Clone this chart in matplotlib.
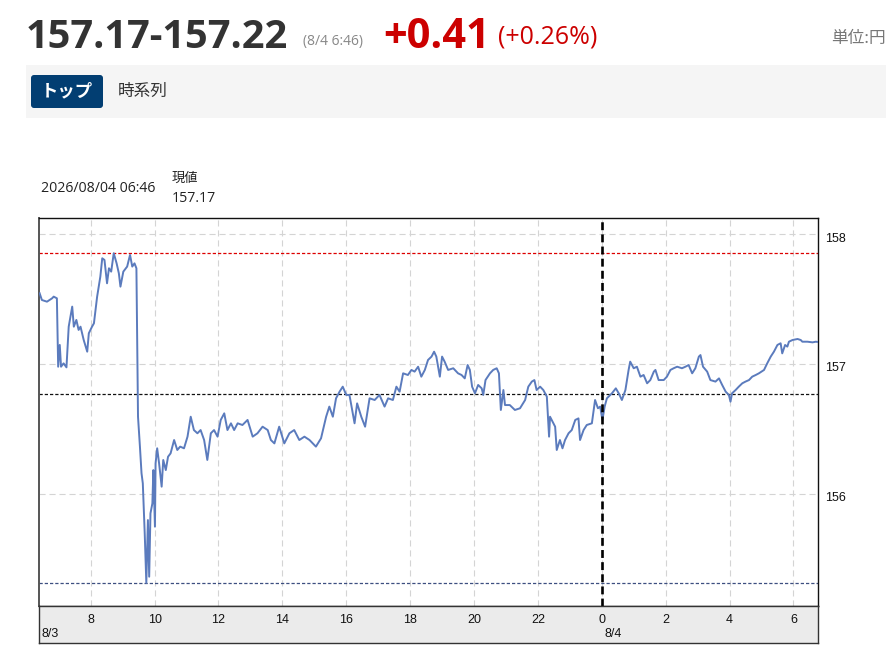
import matplotlib
matplotlib.use('Agg')
import matplotlib.pyplot as plt
from matplotlib.patches import Rectangle, FancyBboxPatch
from matplotlib import transforms

# ---------------- data ----------------
# hours since 8/3 00:00 (24 = 8/4 00:00)
hours = [6.40, 6.47, 6.63, 6.79, 6.84, 6.94, 6.98, 7.03, 7.07, 7.15, 7.24, 7.31, 7.42, 7.47, 7.55,
         7.62, 7.68, 7.78, 7.89, 7.94, 8.04, 8.10, 8.20, 8.30, 8.36, 8.43, 8.51, 8.57, 8.64, 8.72,
         8.81, 8.88, 8.93, 9.02, 9.14, 9.23, 9.30, 9.37, 9.43, 9.48, 9.54, 9.59, 9.63, 9.69, 9.74,
         9.79, 9.83, 9.87, 9.93, 9.96, 10.01, 10.03, 10.08, 10.14, 10.22, 10.27, 10.35, 10.42, 10.50,
         10.61, 10.71, 10.80, 10.92, 11.03, 11.13, 11.23, 11.34, 11.44, 11.55, 11.65, 11.76, 11.86,
         11.97, 12.07, 12.18, 12.28, 12.39, 12.49, 12.60, 12.75, 12.91, 13.07, 13.22, 13.38, 13.54,
         13.64, 13.75, 13.90, 14.06, 14.22, 14.37, 14.53, 14.69, 14.85, 15.05, 15.21,
         15.37, 15.47, 15.58, 15.68, 15.79, 15.89, 16.00, 16.10, 16.26, 16.34, 16.47, 16.59, 16.73,
         16.89, 17.04, 17.20, 17.31, 17.46, 17.57, 17.67, 17.78, 17.93, 18.04, 18.14, 18.25, 18.35,
         18.46, 18.56, 18.67, 18.75, 18.82, 18.93, 19.00, 19.08, 19.19, 19.35, 19.50, 19.61, 19.71,
         19.80, 19.87, 19.94, 20.03, 20.13, 20.24, 20.29, 20.36, 20.50, 20.60, 20.71, 20.78, 20.84,
         20.92, 20.97, 21.12, 21.28, 21.44, 21.60, 21.70, 21.81, 21.89, 21.96, 22.07, 22.17, 22.28,
         22.35, 22.38, 22.54, 22.59, 22.69, 22.77, 22.85, 22.96, 23.06, 23.17, 23.27, 23.32, 23.43,
         23.53, 23.69, 23.79, 23.88, 23.95, 24.02, 24.09, 24.16, 24.32, 24.44, 24.53, 24.63,
         24.74, 24.84, 24.89, 25.00, 25.10, 25.21, 25.31, 25.42, 25.52, 25.63, 25.68, 25.78, 25.94,
         26.04, 26.15, 26.25, 26.36, 26.51, 26.62, 26.72, 26.83, 26.93, 27.04, 27.09, 27.17, 27.30,
         27.40, 27.56, 27.67, 27.77, 27.88, 27.98, 28.03, 28.08, 28.19, 28.29, 28.40, 28.50, 28.61,
         28.71, 28.82, 28.92, 29.08, 29.18, 29.29, 29.39, 29.50, 29.60, 29.65, 29.74, 29.81, 29.86,
         29.97, 30.13, 30.23, 30.28, 30.44, 30.60, 30.70, 30.77]

prices = [157.546, 157.494, 157.481, 157.507, 157.520, 157.507, 156.979, 157.147, 156.979, 157.005,
          156.974, 157.288, 157.443, 157.288, 157.340, 157.263, 157.288, 157.185, 157.095, 157.237,
          157.288, 157.314, 157.520, 157.674, 157.816, 157.803, 157.623, 157.739, 157.713, 157.855,
          157.777, 157.700, 157.597, 157.713, 157.752, 157.842, 157.752, 157.777, 157.739, 156.593,
          156.362, 156.156, 156.079, 155.692, 155.311, 155.795, 155.358, 155.847, 155.924, 156.181,
          155.744, 156.233, 156.349, 156.233, 156.053, 156.259, 156.181, 156.284, 156.310, 156.413,
          156.336, 156.362, 156.349, 156.439, 156.593, 156.490, 156.465, 156.490, 156.413, 156.259,
          156.465, 156.490, 156.439, 156.568, 156.619, 156.490, 156.542, 156.490, 156.542, 156.529,
          156.568, 156.439, 156.465, 156.516, 156.490, 156.413, 156.387, 156.516, 156.387, 156.465,
          156.490, 156.413, 156.439, 156.413, 156.362, 156.426,
          156.593, 156.671, 156.593, 156.735, 156.786, 156.825, 156.761, 156.761, 156.542, 156.696,
          156.593, 156.516, 156.735, 156.722, 156.761, 156.671, 156.735, 156.722, 156.825, 156.786,
          156.928, 156.915, 156.954, 156.941, 156.979, 156.902, 156.954, 157.031, 157.057, 157.095,
          157.057, 156.902, 157.057, 157.018, 156.954, 156.967, 156.928, 156.915, 156.889, 156.992,
          156.954, 156.825, 156.774, 156.838, 156.812, 156.761, 156.876, 156.928, 156.954, 156.967,
          156.928, 156.645, 156.799, 156.683, 156.683, 156.645, 156.658, 156.722, 156.825, 156.864,
          156.876, 156.799, 156.825, 156.799, 156.748, 156.439, 156.593, 156.516, 156.336, 156.413,
          156.349, 156.413, 156.465, 156.490, 156.568, 156.580, 156.413, 156.490, 156.529, 156.542,
          156.722, 156.658, 156.671, 156.568, 156.671, 156.735, 156.774, 156.812, 156.774, 156.722,
          156.799, 156.954, 157.018, 156.967, 156.979, 156.902, 156.915, 156.851, 156.876, 156.941,
          156.954, 156.876, 156.876, 156.902, 156.954, 156.967, 156.979, 156.967, 156.979, 156.992,
          156.928, 156.967, 157.057, 157.069, 156.979, 156.941, 156.876, 156.864, 156.889, 156.838,
          156.786, 156.761, 156.709, 156.774, 156.799, 156.825, 156.851, 156.864, 156.876, 156.902,
          156.915, 156.928, 156.954, 157.005, 157.057, 157.095, 157.147, 157.160, 157.082, 157.147,
          157.134, 157.172, 157.185, 157.193, 157.185, 157.172, 157.172, 157.167, 157.172, 157.170]

high_price = 157.857
low_price = 155.311
prev_close = 156.768
now_hour = 24.0

x_ticks = [8, 10, 12, 14, 16, 18, 20, 22, 24, 26, 28, 30]
x_tick_labels = ['8', '10', '12', '14', '16', '18', '20', '22', '0', '2', '4', '6']
y_ticks = [156, 157, 158]
y_tick_labels = ['156', '157', '158']
date_labels = ['8/3', '8/4']
date_label_hours = [6.38, 24.0]

quote_text = '157.17-157.22'
quote_time = '(8/4 6:46)'
change_text = '+0.41'
change_pct = '(+0.26%)'
unit_text = '単位:円'
tab_labels = ['トップ', '時系列']
info_time = '2026/08/04 06:46'
info_label = '現値'
info_value = '157.17'

# ---------------- figure ----------------
W, H = 896, 647
fig = plt.figure(figsize=(W / 100, H / 100), dpi=100)
fig.patch.set_facecolor('white')

def fx(px):
    return px / W

def fy(py):
    return 1 - py / H

OPEN = ['Open Sans', 'DejaVu Sans']
CJK = ['Noto Sans CJK JP', 'DejaVu Sans']
ARIAL = ['Liberation Sans', 'DejaVu Sans']
RED = '#cc0000'

# header
fig.text(fx(26), fy(47.5), quote_text, family=OPEN, weight='bold', size=28.6,
         color='#333333', va='baseline', ha='left')
fig.text(fx(303), fy(44.5), quote_time, family=OPEN, size=10, color='#888888',
         va='baseline', ha='left')
fig.text(fx(383), fy(47.5), change_text, family=OPEN, weight='bold', size=30,
         color=RED, va='baseline', ha='left')
fig.text(fx(498), fy(43.5), change_pct, family=OPEN, size=18, color=RED,
         va='baseline', ha='left')
fig.text(fx(886), fy(38), unit_text, family=CJK, size=12, color='#777777',
         va='center', ha='right')

# tab band
fig.add_artist(Rectangle((26 / 100, (H - 118) / 100), (886 - 26) / 100, 53 / 100,
                         transform=fig.dpi_scale_trans, facecolor='#f5f5f5',
                         edgecolor='none', zorder=0))
fig.add_artist(FancyBboxPatch((31 / 100, (H - 108) / 100), 72 / 100, 33 / 100,
                              boxstyle='round,pad=0,rounding_size=0.03',
                              transform=fig.dpi_scale_trans, facecolor='#023e72',
                              edgecolor='none', zorder=1))
fig.text(fx(67), fy(91.5), tab_labels[0], family=CJK, weight='bold', size=12.5,
         color='white', va='center', ha='center', zorder=2)
fig.text(fx(118), fy(91.5), tab_labels[1], family=CJK, size=12, color='#333333',
         va='center', ha='left')

# info labels
fig.text(fx(41), fy(189), info_time, family=OPEN, size=10.2, color='#222222',
         va='center', ha='left')
fig.text(fx(172), fy(178), info_label, family=CJK, size=9.5, color='#222222',
         va='center', ha='left')
fig.text(fx(172), fy(199), info_value, family=OPEN, size=10.2, color='#222222',
         va='center', ha='left')

# main chart
ax = fig.add_axes([fx(39), fy(605.7), (818 - 39) / W, (605.7 - 218) / H])
ax.set_facecolor('white')
ax.set_xlim(6.38, 30.77)
ax.set_ylim(155.134, 158.127)
ax.set_xticks(x_ticks)
ax.set_yticks(y_ticks)
ax.tick_params(length=0, labelbottom=False, labelleft=False, labelright=False)
ax.grid(True, color='#d4d4d4', linestyle=(0, (5.5, 3.5)), lw=0.8, zorder=0)
ax.axhline(high_price, color='#dd0000', lw=0.9, ls=(0, (2.6, 1.6)), zorder=2)
ax.axhline(low_price, color='#3d4f80', lw=0.9, ls=(0, (2.6, 1.6)), zorder=2)
ax.axhline(prev_close, color='#111111', lw=0.9, ls=(0, (2.6, 1.6)), zorder=2)
ax.plot(hours, prices, color='#5b7bbd', lw=1.4, zorder=3, solid_joinstyle='round')
ax.axvline(now_hour, color='black', lw=1.9, ls=(0, (3.0, 1.6)), zorder=4)
for s in ax.spines.values():
    s.set_color('#111111')
    s.set_linewidth(1.0)
ax.spines['left'].set_color('#555555')
ax.spines['left'].set_linewidth(1.4)

ytrans = transforms.blended_transform_factory(ax.transAxes, ax.transData)
yoff = transforms.ScaledTranslation(7 / 100, -4.5 / 100, fig.dpi_scale_trans)
for v, lab in zip(y_ticks, y_tick_labels):
    ax.text(1.0, v, lab, transform=ytrans + yoff, family=ARIAL, size=9,
            color='#111111', va='center', ha='left', clip_on=False)

# bottom time panel
ax2 = fig.add_axes([fx(39), fy(643), (818 - 39) / W, (643 - 605.7) / H])
ax2.set_facecolor('#ebebeb')
ax2.set_xlim(6.38, 30.77)
ax2.set_ylim(0, 1)
ax2.set_xticks([])
ax2.set_yticks([])
for s in ax2.spines.values():
    s.set_color('#333333')
    s.set_linewidth(1.0)
xtrans = transforms.blended_transform_factory(ax2.transData, ax2.transAxes)
for t, lab in zip(x_ticks, x_tick_labels):
    ax2.text(t, 0.62, lab, transform=xtrans, family=ARIAL, size=9,
             color='#111111', ha='center', va='center')
doff = transforms.ScaledTranslation(3 / 100, 0, fig.dpi_scale_trans)
for t, lab in zip(date_label_hours, date_labels):
    ax2.text(t, 0.24, lab, transform=xtrans + doff, family=ARIAL, size=9,
             color='#111111', ha='left', va='center')

fig.savefig('out.png', dpi=100)
